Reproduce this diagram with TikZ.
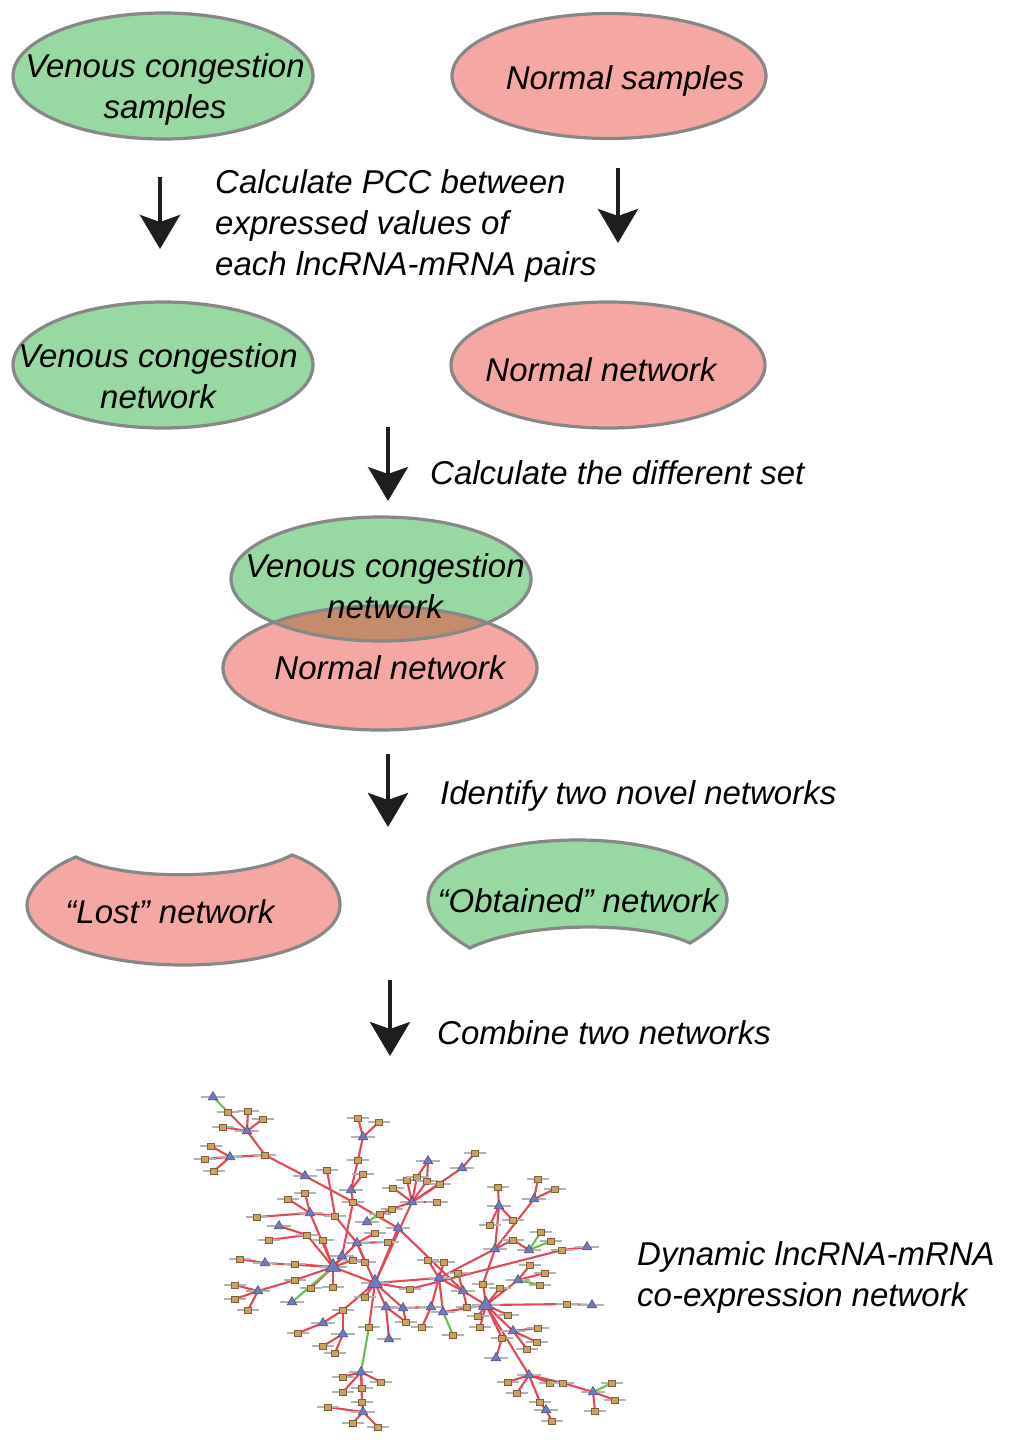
\documentclass[tikz,border=0pt]{standalone}
\usepackage{fontspec}
\setmainfont{Liberation Sans}
\usetikzlibrary{arrows.meta,shapes.geometric}
\definecolor{vgreen}{RGB}{152,216,162}
\definecolor{npink}{RGB}{245,168,163}
\definecolor{bord}{RGB}{135,135,135}
\definecolor{ovl}{RGB}{196,140,108}
\definecolor{ered}{RGB}{228,72,84}
\definecolor{egreen}{RGB}{104,190,80}
\definecolor{hubc}{RGB}{112,122,190}
\definecolor{leafc}{RGB}{205,160,95}
\definecolor{arr}{RGB}{30,30,30}
\tikzset{
  blob/.style={draw=bord,line width=3.2pt},
  txt/.style={inner sep=0pt,font=\fontsize{33}{41}\selectfont\itshape,align=center},
  txtl/.style={txt,align=left,anchor=west},
  flow/.style={draw=arr,line width=4pt,-{Stealth[width=40pt,length=34pt,inset=7pt]}},
  redge/.style={draw=ered,line width=2.1pt},
  gedge/.style={draw=egreen,line width=2.1pt},
  hub/.style={regular polygon,regular polygon sides=3,fill=hubc,draw=hubc!60!black,line width=0.5pt,inner sep=0pt,minimum size=11pt},
  bighub/.style={hub,minimum size=17pt},
  leaf/.style={rectangle,fill=leafc,draw=leafc!60!black,line width=0.5pt,inner sep=0pt,minimum width=7pt,minimum height=6pt},
  lbl/.style={draw=black!30,line width=1.2pt}
}
\begin{document}
\begin{tikzpicture}[x=1pt,y=-1pt]
\useasboundingbox (0,0) rectangle (1011,1443);
\fill[white] (0,0) rectangle (1011,1443);

% ---------- row 1 ----------
\node[blob,fill=vgreen,ellipse,minimum width=300pt,minimum height=126pt] (vcs) at (163,76) {};
\node[blob,fill=npink,ellipse,minimum width=314pt,minimum height=125pt] (ns) at (609,76) {};
\node[txt] (vcst) at (165,89) {Venous congestion\\samples};
\node[txt] (nst) at (625,81) {Normal samples};

\coordinate (a1s) at (160,177); \coordinate (a1e) at (160,249);
\coordinate (a2s) at (618,168); \coordinate (a2e) at (618,243);
\draw[flow] (a1s) -- (a1e);
\draw[flow] (a2s) -- (a2e);
\node[txtl] (pcc) at (215,226) {Calculate PCC between\\expressed values of\\each lncRNA-mRNA pairs};

% ---------- row 2 ----------
\node[blob,fill=vgreen,ellipse,minimum width=300pt,minimum height=126pt] (vcn) at (163,365) {};
\node[blob,fill=npink,ellipse,minimum width=314pt,minimum height=126pt] (nn) at (608,365) {};
\node[txt] (vcnt) at (158,376) {Venous congestion\\network};
\node[txt] (nnt) at (601,370) {Normal network};

\coordinate (a3s) at (388,427); \coordinate (a3e) at (388,501);
\draw[flow] (a3s) -- (a3e);
\node[txtl] (diff) at (430,473) {Calculate the different set};

% ---------- overlap ----------
\fill[vgreen] (381,579) ellipse [x radius=150, y radius=62];
\fill[npink] (380,668) ellipse [x radius=157, y radius=62];
\begin{scope}
\clip (381,579) ellipse [x radius=150, y radius=62];
\fill[ovl] (380,668) ellipse [x radius=157, y radius=62];
\end{scope}
\node[blob,ellipse,minimum width=300pt,minimum height=124pt] (ovg) at (381,579) {};
\node[blob,ellipse,minimum width=314pt,minimum height=124pt] (ovp) at (380,668) {};
\node[txt] (ovgt) at (385,586) {Venous congestion\\network};
\node[txt] (ovpt) at (390,668) {Normal network};

\coordinate (a4s) at (388,754); \coordinate (a4e) at (388,827);
\draw[flow] (a4s) -- (a4e);
\node[txtl] (ident) at (440,796) {Identify two novel networks};

% ---------- lost / obtained ----------
\draw[blob,fill=npink] (76,857) .. controls (40,872) and (27,893) .. (27,905)
  .. controls (27,940) and (100,965) .. (183,965)
  .. controls (270,965) and (340,940) .. (340,905)
  .. controls (340,885) and (322,866) .. (292,855)
  .. controls (245,880) and (125,882) .. (76,857) -- cycle;
\draw[blob,fill=vgreen] (470,948) .. controls (442,932) and (428,915) .. (428,900)
  .. controls (428,862) and (500,840) .. (578,840)
  .. controls (660,840) and (727,866) .. (727,900)
  .. controls (727,916) and (712,930) .. (690,943)
  .. controls (640,920) and (522,922) .. (470,948) -- cycle;
\node[txt] (lostt) at (170,912) {“Lost” network};
\node[txt] (obtt) at (578,901) {“Obtained” network};

\coordinate (a5s) at (390,980); \coordinate (a5e) at (390,1056);
\draw[flow] (a5s) -- (a5e);
\node[txtl] (comb) at (437,1033) {Combine two networks};

\node[txtl] (dyn) at (637,1277) {Dynamic lncRNA-mRNA\\co-expression network};

% ---------- network ----------
\foreach \n/\x/\y in {
 t1/333/1267,t2/375/1283,t3/357/1243,t4/486/1305,t5/463/1291,t6/439/1278,t7/431/1307,t8/443/1312,
 t9/386/1307,t10/403/1308,t11/412/1202,t12/398/1228,t13/247/1131,t14/230/1157,t15/305/1176,t16/363/1137,
 t17/351/1190,t18/428/1161,t19/462/1168,t20/499/1206,t21/534/1199,t22/495/1249,t23/529/1250,t24/518/1280,
 t25/513/1331,t26/529/1375,t27/593/1392,t28/546/1410,t29/361/1372,t30/363/1412,t31/343/1334,t32/323/1323,
 t33/258/1291,t34/265/1263,t35/310/1213,t36/279/1226,t39/367/1222,t40/389/1339,t41/496/1358,
 t43/587/1247,t44/592/1305,t46/213/1097,t47/292/1302,t48/342/1256,
 s1/265/1155,s2/211/1146,s3/205/1159,s4/214/1171,s5/228/1112,s6/248/1111,s6b/263/1119,s7/223/1127,
 s8/358/1118,s9/379/1122,s10/358/1160,s11/353/1202,s12/363/1174,s13/327/1170,s14/335/1216,s15/375/1233,
 s16/388/1242,s17/305/1193,s18/288/1199,s19/257/1217,s20/307/1235,s21/269/1240,s22/240/1259,s23/295/1264,
 s24/295/1280,s25/311/1288,s26/333/1287,s27/353/1260,s28/365/1262,s29/235/1285,s30/235/1299,s31/248/1310,
 s32/393/1188,s33/407/1180,s34/417/1177,s35/427/1181,s36/440/1184,s37/437/1202,s38/475/1153,s39/392/1209,
 s40/380/1214,s41/365/1297,s42/410/1289,s43/369/1327,s44/406/1322,s45/343/1310,s46/298/1333,s47/343/1377,
 s48/381/1382,s49/343/1392,s50/362/1388,s51/362/1402,s52/353/1423,s53/378/1427,s54/328/1407,s55/323/1346,
 s56/335/1353,s57/483/1284,s58/500/1288,s59/508/1315,s60/478/1316,s61/480/1327,s62/567/1304,s63/502/1338,
 s64/538/1328,s65/537/1342,s66/527/1349,s67/508/1382,s68/517/1393,s69/540/1402,s70/550/1383,s71/563/1383,
 s72/612/1383,s73/615/1400,s74/595/1411,s75/552/1421,s76/467/1307,s77/458/1273,s78/490/1225,s79/513/1220,
 s80/498/1187,s81/538/1179,s82/555/1189,s83/513/1240,s84/541/1232,s85/551/1241,s86/530/1265,s87/545/1273,
 s88/540/1285,s89/428/1260,s90/444/1262,s91/422/1327,s92/453/1335,s93/562/1250,s94/323/1240}
 {\coordinate (\n) at (\x,\y);}

% red edges
\foreach \a/\b in {
 s5/t13,s6/t13,s6b/t13,s7/t13,t13/s1,t14/s1,t14/s2,t14/s3,t14/s4,
 s1/t15,t15/s11,s11/t12,t12/t5,t5/t4,
 t16/s8,t16/s9,t16/s10,s10/t17,t17/s12,t17/s11,s11/t48,t48/t1,
 s13/s14,s14/t3,t3/s15,t3/s16,t3/t1,t3/s28,t3/t2,
 t35/s17,t35/s18,t35/s19,t35/t1,t35/s14,
 t1/s20,s20/s21,s20/t36,t1/s94,
 t1/t34,t34/s22,t1/s23,t1/s24,t1/s25,t1/s26,t1/s27,t1/t2,s24/t33,t33/s29,t33/s30,t33/s31,
 t2/s41,t2/s42,t2/s43,t2/t9,t2/t10,t2/s45,s45/t32,t32/s46,s45/t31,t31/s55,t31/s56,
 t29/s47,t29/s48,t29/s49,t29/s50,t29/s51,s51/t30,t30/s52,t30/s53,t30/s54,
 t9/s44,t10/s44,t9/t40,t2/t11,t2/t6,
 t11/s32,t11/s33,t11/s34,t11/s35,t11/s36,t11/s37,t18/s34,t18/s35,t11/t19,t19/s38,t11/s39,s39/s40,
 t6/s89,t6/s90,t6/t7,t6/t8,t6/t5,t6/t22,t7/s91,t7/t10,t8/t4,
 t5/s76,t5/s77,
 t4/s57,t4/s58,t4/s59,t4/s60,t4/s61,t4/s62,s62/t44,t4/s63,s63/t41,t4/t25,t4/t26,t4/t24,
 t25/s64,t25/s65,t25/s66,
 t26/s67,t26/s68,t26/s69,t26/s70,t26/s71,s71/t27,t27/s73,t27/s74,s69/t28,t28/s75,
 t22/t20,t20/s78,t20/s79,t20/s80,t21/s81,t21/s82,t21/t22,t22/s83,t22/s57,
 s42/s93,s93/t43,t23/s83,t24/s86,t24/s87,t12/t2}
 {\draw[redge] (\a) -- (\b);}
% green edges
\foreach \a/\b in {t46/s5,t1/t47,s43/t29,s40/t39,t8/s92,t27/s72,t23/s84,t23/s85,t24/s88}
 {\draw[gedge] (\a) -- (\b);}

% node labels (tiny grey marks) and nodes
\foreach \n in {t3,t5,t6,t7,t8,t9,t10,t11,t12,t13,t14,t15,t16,t17,t18,t19,t20,t21,t22,t23,t24,t25,t26,t27,t28,t29,t30,t31,t32,t33,t34,t35,t36,t39,t40,t41,t43,t44,t46,t47,t48}
 {\draw[lbl] ([xshift=-12pt]\n) -- ([xshift=12pt]\n); \node[hub] at (\n) {};}
\foreach \n in {t1,t2,t4}
 {\draw[lbl] ([xshift=-14pt]\n) -- ([xshift=14pt]\n); \node[bighub] at (\n) {};}
\foreach \n in {s1,s2,s3,s4,s5,s6,s6b,s7,s8,s9,s10,s11,s12,s13,s14,s15,s16,s17,s18,s19,s20,s21,s22,s23,s24,s25,s26,s27,s28,s29,s30,s31,s32,s33,s34,s35,s36,s37,s38,s39,s40,s41,s42,s43,s44,s45,s46,s47,s48,s49,s50,s51,s52,s53,s54,s55,s56,s57,s58,s59,s60,s61,s62,s63,s64,s65,s66,s67,s68,s69,s70,s71,s72,s73,s74,s75,s76,s77,s78,s79,s80,s81,s82,s83,s84,s85,s86,s87,s88,s89,s90,s91,s92,s93,s94}
 {\draw[lbl] ([xshift=-11pt]\n) -- ([xshift=11pt]\n); \node[leaf] at (\n) {};}
\end{tikzpicture}
\end{document}
